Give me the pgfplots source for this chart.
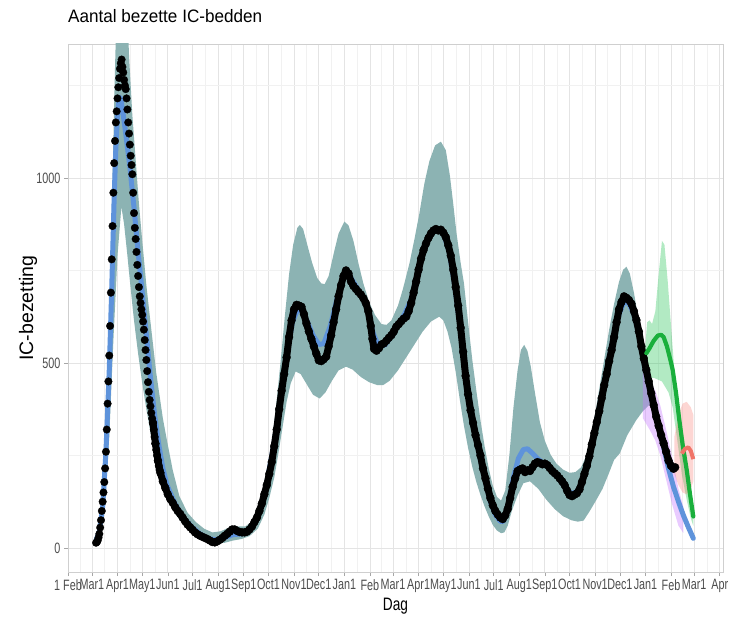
\documentclass[border=0pt]{standalone}
\usepackage{fontspec}
\setmainfont{Liberation Sans}
\newfontfamily\narrowfont[FakeStretch=0.72]{Liberation Sans}
\newfontfamily\labfont[FakeStretch=0.76]{Liberation Sans}
\newfontfamily\titlefont[FakeStretch=0.95]{Liberation Sans}
\usepackage{pgfplots}
\pgfplotsset{compat=1.18}
\usepgfplotslibrary{fillbetween}
\usetikzlibrary{calc}
\definecolor{tealrib}{HTML}{8CB3B3}
\definecolor{bluel}{HTML}{5E93DB}
\definecolor{greenl}{HTML}{1AAF3C}
\definecolor{greenrib}{HTML}{00BA38}
\definecolor{redl}{HTML}{F07468}
\definecolor{pinkrib}{HTML}{F8766D}
\definecolor{purprib}{HTML}{C77CFF}
\definecolor{gridmaj}{HTML}{E4E4E4}
\definecolor{gridmin}{HTML}{F1F1F1}
\definecolor{border}{HTML}{CFCFCF}
\definecolor{tickgray}{HTML}{4D4D4D}
\begin{document}
\begin{tikzpicture}
\begin{axis}[
  scale only axis, width=655bp, height=528bp,
  xmin=0, xmax=794, ymin=-65, ymax=1362,
  axis line style={draw=border, line width=0.7bp},
  xtick={0,29,60,90,121,151,182,213,243,274,304,335,366,394,425,455,486,516,547,578,608,639,669,700,731,759,790},
  xticklabels={1 Feb, Mar1, Apr1, May1, Jun1, Jul1, Aug1, Sep1, Oct1, Nov1, Dec1, Jan1, Feb, Mar1, Apr1, May1, Jun1, Jul1, Aug1, Sep1, Oct1, Nov1, Dec1, Jan1, Feb, Mar1, Apr},
  minor xtick={14.5,44.5,75,105.5,136,166.5,197.5,228,258.5,289,319.5,350.5,380,409.5,440,470.5,501,531.5,562.5,593,623.5,654,684.5,715.5,745,774.5},
  ytick={0,500,1000}, minor ytick={250,750,1250},
  grid=both,
  major grid style={draw=gridmaj, line width=0.7bp},
  minor grid style={draw=gridmin, line width=0.5bp},
  tick align=outside, major tick length=4bp, minor tick length=0pt,
  xtick pos=left, ytick pos=left,
  tick style={draw=gray!70, line width=0.6bp},
  ticklabel style={font=\narrowfont\fontsize{15bp}{15bp}\selectfont, text=tickgray},
  /pgf/number format/assume math mode=true,
  /pgf/number format/1000 sep={},
  scaled y ticks=false,
  xlabel={Dag}, ylabel={IC-bezetting},
  xlabel style={font=\labfont\fontsize{18bp}{18bp}\selectfont, at={(axis description cs:0.5,-0.072)}, anchor=base},
  ylabel style={font=\fontsize{19.5bp}{19.5bp}\selectfont, at={(axis description cs:-0.0534,0.5)}, anchor=base},
  title={Aantal bezette IC-bedden},
  title style={font=\titlefont\fontsize{18bp}{18bp}\selectfont, at={(axis description cs:0,1.0303)}, anchor=base west, inner sep=0pt},
]
% teal ribbon
\addplot[name path=tu, draw=none, forget plot] coordinates {(34,25)(40,110)(45,280)(50,620)(53,900)(55,1100)(57,1300)(58.5,1420)(72.5,1420)(74,1330)(78,1170)(82,1050)(86,930)(90,830)(95,710)(100,610)(107,473)(115,350)(120,290)(127,210)(135,140)(145,95)(155,70)(165,52)(175,42)(185,45)(195,55)(205,58)(215,58)(225,75)(232,110)(238,160)(243,220)(248,300)(253,400)(258,510)(263,630)(268,740)(273,820)(278,865)(281,873)(285,862)(290,820)(296,770)(302,730)(307,715)(311,713)(316,735)(322,795)(328,850)(335,882)(340,872)(346,830)(352,770)(358,715)(365,665)(372,630)(380,605)(386,603)(392,615)(400,655)(406,700)(414,770)(420,835)(426,905)(432,985)(438,1045)(445,1088)(452,1098)(458,1075)(463,1005)(467,930)(471,850)(476,770)(480,715)(485,610)(490,510)(495,425)(500,345)(505,275)(510,215)(515,168)(520,138)(525,128)(530,155)(535,250)(540,380)(545,480)(549,535)(553,549)(557,532)(561,490)(566,420)(572,340)(578,290)(585,252)(592,228)(600,212)(608,203)(615,205)(622,218)(628,248)(632,285)(638,350)(644,430)(650,510)(656,590)(662,660)(668,720)(673,752)(677,760)(681,742)(686,690)(693,600)(700,520)(706,470)};
\addplot[name path=tl, draw=none, forget plot] coordinates {(34,8)(40,40)(45,120)(50,300)(55,560)(60,790)(64.7,922)(68,875)(72,790)(76,700)(80,615)(85,525)(90,445)(95,375)(100,312)(105,258)(110,210)(115,170)(120,138)(125,112)(130,92)(140,62)(150,42)(160,27)(170,16)(180,12)(190,14)(200,20)(210,24)(220,32)(230,52)(238,90)(244,135)(250,190)(255,255)(260,325)(265,395)(270,445)(276,477)(282,470)(290,440)(297,414)(305,404)(312,420)(320,452)(328,480)(337,490)(345,482)(355,462)(365,448)(375,440)(382,440)(390,452)(400,480)(410,515)(420,550)(430,585)(440,612)(450,625)(455,615)(460,585)(465,540)(470,475)(475,400)(480,330)(485,270)(490,220)(495,178)(500,143)(505,112)(510,85)(515,62)(520,47)(525,40)(529,42)(533,60)(538,100)(545,142)(552,175)(560,180)(570,160)(580,130)(590,105)(600,86)(610,75)(618,71)(625,74)(632,98)(640,128)(648,160)(655,198)(662,238)(669,256)(678,305)(689,346)(697,370)(706,390)};
\addplot[fill=tealrib, draw=none, forget plot] fill between[of=tu and tl];
% blue model line
\addplot[bluel, line width=5bp, line join=round, line cap=round, forget plot] coordinates {(34,20)(38,45)(42,110)(46,260)(50,480)(53,700)(56,950)(58,1080)(60,1170)(62,1218)(64,1215)(67,1170)(70,1120)(75,1030)(80,920)(85,800)(90,690)(95,575)(100,460)(105,360)(110,280)(115,215)(120,170)(130,118)(140,82)(150,57)(160,38)(170,25)(180,22)(190,28)(200,36)(210,38)(220,46)(230,85)(240,165)(250,285)(258,410)(265,520)(272,610)(278,642)(284,640)(290,612)(297,575)(304,550)(310,552)(318,600)(326,672)(334,730)(340,740)(348,712)(356,682)(364,640)(370,580)(376,548)(384,548)(392,572)(400,602)(408,632)(416,672)(424,742)(432,812)(440,850)(448,860)(455,850)(462,802)(468,722)(475,605)(482,470)(490,350)(497,270)(505,190)(512,125)(518,90)(524,72)(528,72)(534,120)(540,192)(546,242)(552,266)(557,268)(563,256)(570,240)(578,226)(586,210)(594,190)(602,166)(609,148)(616,150)(622,170)(630,232)(638,312)(646,402)(654,492)(662,580)(668,632)(674,666)(680,660)(686,632)(692,582)(698,512)(704,452)(710,390)(716,330)(722,272)(728,214)(734,165)(740,125)(746,88)(752,56)(758,26)};
% purple ribbon
\addplot[name path=pu, draw=none, forget plot] coordinates {(697,480)(705,455)(712,425)(718,385)(725,320)(732,250)(740,160)(746,110)};
\addplot[name path=pl, draw=none, forget plot] coordinates {(697,350)(705,320)(712,290)(718,250)(725,185)(732,120)(740,60)(746,40)};
\addplot[fill=purprib, fill opacity=0.4, draw=none, forget plot] fill between[of=pu and pl];
% green ribbon
\addplot[name path=gu, draw=none, forget plot] coordinates {(699,520)(702,610)(705,615)(708,605)(712,640)(716,740)(720,830)(723,820)(727,720)(731,600)(735,480)(740,400)(745,320)(750,240)(755,160)(758,110)};
\addplot[name path=gl, draw=none, forget plot] coordinates {(699,455)(710,460)(720,450)(728,420)(733,380)(738,300)(744,200)(750,130)(755,80)(758,60)};
\addplot[fill=greenrib, fill opacity=0.3, draw=none, forget plot] fill between[of=gu and gl];
% pink ribbon
\addplot[name path=ru, draw=none, forget plot] coordinates {(735,300)(740,360)(745,390)(750,395)(755,380)(758,360)};
\addplot[name path=rl, draw=none, forget plot] coordinates {(735,200)(740,170)(745,150)(750,145)(755,160)(758,180)};
\addplot[fill=pinkrib, fill opacity=0.3, draw=none, forget plot] fill between[of=ru and rl];
% observed (daily, separate dots)
\addplot[only marks, mark=*, mark size=3.8bp, black, mark options={line width=0.3bp}, forget plot] coordinates {(34,14)(35,16)(36,20)(37,28)(38,38)(39,55)(40,75)(41,100)(42,125)(43,150)(44,178)(45,215)(46,260)(47,320)(48,390)(49,450)(50,520)(51,600)(52,690)(53,780)(54,870)(55,960)(56,1040)(57,1100)(58,1150)(59,1180)(60,1215)(61,1245)(62,1270)(63,1295)(64,1310)(65,1320)(66,1300)(67,1285)(68,1265)(69,1250)(70,1240)(71,1215)(72,1185)(73,1150)(74,1120)(75,1090)(76,1060)(77,1035)(78,1010)(79,960)(80,905)(81,865)(82,835)(83,800)(84,765)(85,735)(86,705)(87,680)(88,662)(89,645)(90,630)(91,612)(92,590)(93,562)(94,535)(95,508)(96,478)(97,448)(98,422)(99,400)(100,383)(101,365)(102,350)(103,338)(104,320)(105,300)(106,282)(107,265)(108,250)(109,236)(110,222)(111,211)};
% observed (dense part): thick line + dots
\pgfplotstableread{
x y
103 338
106 282
109 236
112 203
115 180
118 162
121 145
124 132
127 122
130 110
133 100
136 92
139 82
142 72
145 63
148 56
151 49
154 42
157 37
160 33
163 30
166 27
169 24
172 20
175 16
178 15
181 18
184 22
187 27
190 33
193 38
196 44
199 50
202 50
205 46
208 43
211 42
214 42
217 44
220 50
223 58
226 70
229 82
232 100
235 120
238 145
241 170
244 200
247 232
250 275
253 320
256 375
259 425
262 470
265 515
268 570
271 615
274 645
277 657
280 655
283 652
286 632
289 607
292 585
295 565
298 545
301 525
304 507
307 505
310 510
313 517
316 545
319 575
322 610
325 645
328 680
331 710
334 735
337 750
340 742
343 720
346 708
349 700
352 692
355 685
358 675
361 662
364 640
367 600
369 565
371 538
374 533
377 540
380 550
383 553
386 560
389 568
392 575
395 585
398 598
401 605
404 613
407 620
410 625
413 640
416 662
419 690
422 720
425 752
428 782
431 805
434 823
437 838
440 850
443 858
446 862
449 858
452 860
455 852
458 840
461 818
464 790
467 752
470 705
473 655
476 595
479 530
482 465
485 415
488 372
491 338
494 305
497 278
500 250
503 215
506 188
509 160
512 135
515 115
518 100
521 90
524 82
527 78
530 88
533 105
536 135
539 165
542 188
545 208
548 212
551 215
554 205
557 210
560 208
563 218
566 228
569 232
572 230
575 226
578 228
581 224
584 216
587 208
590 202
593 196
596 188
599 180
602 170
605 155
608 143
611 140
614 144
617 148
620 158
623 178
626 200
629 222
632 248
635 280
638 310
641 340
644 370
647 405
650 440
653 470
656 505
659 535
662 570
665 610
668 645
671 665
674 680
677 676
680 670
683 660
686 640
689 616
692 585
695 545
698 512
701 481
704 450
707 418
710 386
713 355
716 330
719 305
722 283
725 260
728 236
731 222
734 214
736 218
}\obsdense
\addplot[black, line width=7bp, line join=round, line cap=round, forget plot] table[x=x, y=y] {\obsdense};
\addplot[only marks, mark=*, mark size=4bp, black, mark options={line width=0.3bp}, forget plot] table[x=x, y=y] {\obsdense};
% green forecast
\addplot[greenl, line width=4.2bp, line join=round, line cap=round, forget plot] coordinates {(701,526)(705,540)(710,560)(715,574)(719,576)(722,570)(726,545)(730,510)(733,481)(737,420)(741,346)(745,280)(750,211)(754,145)(758,85)};
% red forecast
\addplot[redl, line width=4bp, line join=round, forget plot] coordinates {(744,255)(748,268)(752,272)(755,262)(758,240)};
\end{axis}
\path ($(current axis.south west)+(-68bp,-55bp)$) rectangle ($(current axis.north east)+(16bp,44bp)$);
\end{tikzpicture}
\end{document}
